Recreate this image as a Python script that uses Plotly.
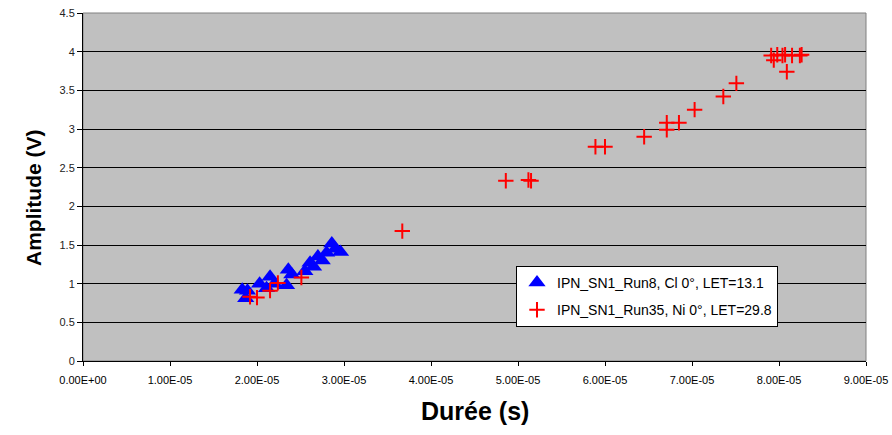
import plotly.graph_objects as go

# ---- data (durations in seconds, amplitudes in volts) ----
blue_name = "IPN_SN1_Run8, Cl 0°, LET=13.1"
blue_x = [1.83e-5, 1.89e-5, 1.87e-5, 2.03e-5, 2.11e-5, 2.15e-5, 2.20e-5, 2.34e-5, 2.36e-5,
          2.40e-5, 2.55e-5, 2.61e-5, 2.65e-5, 2.70e-5, 2.75e-5, 2.80e-5, 2.86e-5, 2.90e-5, 2.96e-5]
blue_y = [0.92, 0.91, 0.81, 1.00, 0.94, 1.09, 1.00, 0.98, 1.18,
          1.12, 1.16, 1.27, 1.22, 1.35, 1.30, 1.40, 1.52, 1.45, 1.41]

red_name = "IPN_SN1_Run35, Ni 0°, LET=29.8"
red_x = [1.92e-5, 2.00e-5, 2.15e-5, 2.24e-5, 2.51e-5, 3.67e-5, 4.86e-5, 5.12e-5, 5.15e-5,
         5.89e-5, 6.00e-5, 6.45e-5, 6.71e-5, 6.71e-5, 6.85e-5, 7.03e-5, 7.36e-5, 7.51e-5,
         7.91e-5, 7.94e-5, 7.98e-5, 8.04e-5, 8.07e-5, 8.09e-5, 8.15e-5, 8.24e-5, 8.26e-5]
red_y = [0.83, 0.82, 0.91, 1.01, 1.08, 1.68, 2.33, 2.34, 2.33,
         2.77, 2.77, 2.90, 2.99, 3.08, 3.08, 3.25, 3.42, 3.59,
         3.95, 3.89, 3.96, 3.95, 3.96, 3.74, 3.95, 3.95, 3.96]

x_tick_vals = [0, 1e-5, 2e-5, 3e-5, 4e-5, 5e-5, 6e-5, 7e-5, 8e-5, 9e-5]
x_tick_text = ["0.00E+00", "1.00E-05", "2.00E-05", "3.00E-05", "4.00E-05",
               "5.00E-05", "6.00E-05", "7.00E-05", "8.00E-05", "9.00E-05"]
y_tick_vals = [0, 0.5, 1, 1.5, 2, 2.5, 3, 3.5, 4, 4.5]
y_tick_text = ["0", "0.5", "1", "1.5", "2", "2.5", "3", "3.5", "4", "4.5"]

x_title = "Durée (s)"
y_title = "Amplitude (V)"

FONT = "Arial, 'Liberation Sans', sans-serif"

fig = go.Figure()
fig.add_trace(go.Scatter(
    x=blue_x, y=blue_y, mode="markers", name=blue_name, legendgroup="a",
    marker=dict(symbol="triangle-up", size=15, color="#0000FF"),
))
fig.add_trace(go.Scatter(
    x=red_x, y=red_y, mode="markers", name=red_name, legendgroup="b",
    marker=dict(symbol="cross-thin", size=11, color="#FF0000",
                line=dict(color="#FF0000", width=2)),
))

fig.update_layout(
    width=892, height=435,
    margin=dict(l=83, r=26, t=13, b=74, autoexpand=False),
    paper_bgcolor="white",
    plot_bgcolor="#C0C0C0",
    font=dict(family=FONT, color="black"),
    showlegend=True,
    legend=dict(
        x=0.553, y=0.273, xanchor="left", yanchor="top",
        bgcolor="white", bordercolor="black", borderwidth=1,
        traceorder="grouped", tracegroupgap=6,
        font=dict(family=FONT, size=14, color="black"),
    ),
    shapes=[dict(type="rect", xref="paper", yref="paper", x0=0, x1=1, y0=0, y1=1,
                 line=dict(color="#808080", width=1), layer="below")],
    annotations=[
        dict(text="<b>" + y_title + "</b>", xref="paper", yref="paper",
             x=-0.064, y=0.471, xanchor="center", yanchor="middle", textangle=-90,
             showarrow=False, font=dict(family=FONT, size=21, color="black")),
        dict(text="<b>" + x_title + "</b>", xref="paper", yref="paper",
             x=0.5, y=-0.144, xanchor="center", yanchor="middle",
             showarrow=False, font=dict(family=FONT, size=25, color="black")),
    ],
)

fig.update_xaxes(
    range=[0, 9e-5], automargin=False,
    tickmode="array", tickvals=x_tick_vals, ticktext=x_tick_text,
    showgrid=False, zeroline=False,
    ticks="outside", ticklen=4, tickcolor="black",
    showline=True, linecolor="black", linewidth=1,
    tickfont=dict(family=FONT, size=11, color="black"),
    ticklabelstandoff=5,
)
fig.update_yaxes(
    range=[0, 4.5], automargin=False,
    tickmode="array", tickvals=y_tick_vals, ticktext=y_tick_text,
    showgrid=True, gridcolor="black", gridwidth=1, zeroline=False,
    ticks="outside", ticklen=5, tickcolor="black",
    showline=True, linecolor="black", linewidth=1,
    tickfont=dict(family=FONT, size=11, color="#222222"),
)

fig.write_html("out.html")
